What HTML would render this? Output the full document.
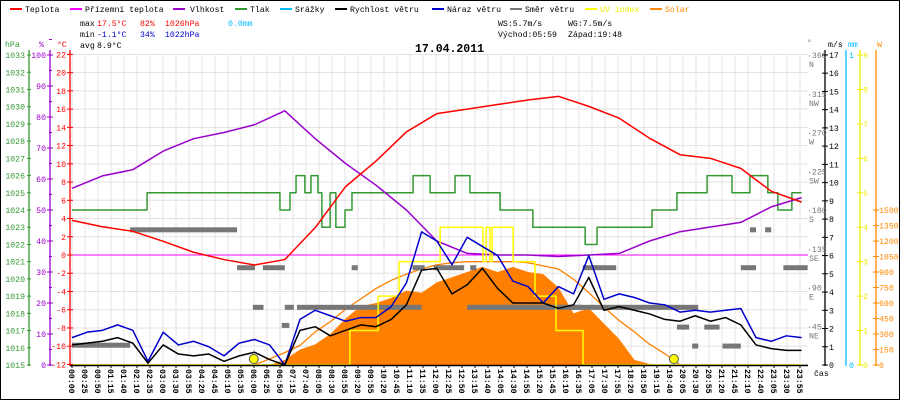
<!DOCTYPE html>
<html><head><meta charset="utf-8">
<style>
html,body{margin:0;padding:0;background:#fff}
svg{display:block}
text{font-family:"Liberation Mono",monospace;font-size:8.2px}
</style></head>
<body>
<svg id="chart" width="900" height="400" xmlns="http://www.w3.org/2000/svg">
<rect x="0.5" y="0.5" width="899" height="399" fill="#fff" stroke="#000"/>
<g id="grid"></g>
<g id="series"></g>
<g id="axes"></g>
<g>
<line x1="10" y1="9" x2="22" y2="9" stroke="#f00" stroke-width="2"/><text x="25" y="12">Teplota</text>
<line x1="70" y1="9" x2="82" y2="9" stroke="#f0f" stroke-width="2"/><text x="85" y="12">Přízemní teplota</text>
<line x1="173" y1="9" x2="185" y2="9" stroke="#90c" stroke-width="2"/><text x="190" y="12">Vlhkost</text>
<line x1="235" y1="9" x2="247" y2="9" stroke="#393" stroke-width="2"/><text x="250" y="12">Tlak</text>
<line x1="280" y1="9" x2="292" y2="9" stroke="#0bf" stroke-width="2"/><text x="295" y="12">Srážky</text>
<line x1="335" y1="9" x2="347" y2="9" stroke="#000" stroke-width="2"/><text x="350" y="12">Rychlost větru</text>
<line x1="432" y1="9" x2="444" y2="9" stroke="#00c" stroke-width="2"/><text x="447" y="12">Náraz větru</text>
<line x1="510" y1="9" x2="522" y2="9" stroke="#777" stroke-width="2"/><text x="525" y="12">Směr větru</text>
<line x1="585" y1="9" x2="597" y2="9" stroke="#ff0" stroke-width="2"/><text x="600" y="12" fill="#ee0">UV index</text>
<line x1="650" y1="9" x2="662" y2="9" stroke="#f80" stroke-width="2"/><text x="665" y="12" fill="#f80">Solar</text>
</g>
<g>
<text x="80" y="26">max</text><text x="97" y="26" fill="#f00">17.5°C</text><text x="140" y="26" fill="#f00">82%</text><text x="165" y="26" fill="#f00">1026hPa</text><text x="228" y="26" fill="#0bf">0.0mm</text>
<text x="80" y="37">min</text><text x="97" y="37" fill="#00c">-1.1°C</text><text x="140" y="37" fill="#00c">34%</text><text x="165" y="37" fill="#00c">1022hPa</text>
<text x="80" y="48">avg</text><text x="97" y="48">8.9°C</text>
<text x="498" y="26">WS:5.7m/s</text><text x="568" y="26">WG:7.5m/s</text>
<text x="498" y="37">Východ:05:59</text><text x="568" y="37">Západ:19:48</text>
</g>
<text x="415" y="52" style="font-size:11.5px;font-weight:bold">17.04.2011</text>
<text x="5" y="47" fill="#393">hPa</text>
<text x="39" y="47" fill="#90c">%</text>
<text x="57" y="47" fill="#f00">°C</text>
<text x="807" y="45" fill="#777">°</text>
<text x="828" y="47">m/s</text>
<text x="848" y="47" fill="#0bf">mm</text>
<text x="877" y="47" fill="#f80">W</text>
<text x="814" y="376">čas</text>
</svg>
<script>
// ---- data ----
const timeLabels=["00:00","00:25","00:50","01:15","01:40","02:10","02:35","03:00","03:30","03:55","04:20","04:45","05:10","05:35","06:00","06:25","06:50","07:15","07:40","08:05","08:30","08:55","09:20","09:55","10:20","10:45","11:10","11:35","12:00","12:25","12:50","13:15","13:40","14:05","14:30","14:55","15:20","15:45","16:10","16:35","17:05","17:30","17:55","18:20","18:50","19:15","19:40","20:05","20:30","20:55","21:20","21:45","22:10","22:40","23:05","23:30","23:55"];
const hourly=[0,1,2,3,4,5,6,7,8,9,10,11,12,13,14,15,16,17,18,19,20,21,22,23,24];
const tempValues=[3.8,3.1,2.6,1.5,0.3,-0.5,-1.1,-0.5,3.0,7.5,10.3,13.5,15.5,16.0,16.5,17.0,17.4,16.3,15.0,12.8,11.0,10.6,9.5,7.0,5.8];
const humValues=[57,61,63,69,73,75,77.5,82,73,65,58,50,40,36,35.5,35.5,35,35.5,36,40,43,44.5,46,51,54];
const apparentTemp=[0,0];
const apparentHours=[0,24];
const pressHours=[0,2.47,6.84,7.17,7.37,7.66,7.86,8.09,8.22,8.49,8.68,8.98,9.21,11.22,11.78,12.6,13.09,14.08,15.16,16.88,17.27,19.08,19.9,20.89,21.71,22.3,22.89,23.22,23.68,24];
const pressValues=[1024,1025,1024,1025,1026,1025,1026,1025,1023,1025,1023,1024,1025,1026,1025,1026,1025,1024,1023,1022,1023,1024,1025,1026,1025,1026,1025,1024,1025,1025];
const halfHours=[0,0.5,1,1.5,2,2.5,3,3.5,4,4.5,5,5.5,6,6.5,7,7.5,8,8.5,9,9.5,10,10.5,11,11.5,12,12.5,13,13.5,14,14.5,15,15.5,16,16.5,17,17.5,18,18.5,19,19.5,20,20.5,21,21.5,22,22.5,23,23.5,24];
const windValues=[1.1,1.2,1.3,1.5,1.2,0.1,1.1,0.6,0.5,0.6,0.2,0.5,0.7,0.3,0,1.9,2.1,1.6,1.9,2.2,2.1,2.5,3.3,5.2,5.3,3.9,4.4,5.3,4.2,3.4,3.4,3.4,3.1,3.3,4.8,3.0,3.2,3.0,2.8,2.5,2.4,2.7,2.4,2.6,2.2,1.1,0.9,0.8,0.8];
const gustValues=[1.5,1.8,1.9,2.2,1.9,0.2,1.8,1.1,1.3,1.0,0.5,1.2,1.4,1.1,0,2.5,3.0,2.7,2.4,2.6,2.6,3.2,4.5,7.3,6.8,5.5,7.0,6.5,6.0,4.6,4.3,3.4,4.3,3.9,6.0,3.6,3.9,3.7,3.4,3.3,2.9,3.0,2.9,3.0,3.1,1.5,1.3,1.6,1.5];
const solarValues=[0,0,0,0,0,0,0,0,0,0,0,0,0,0,50,150,200,300,450,570,600,650,720,700,800,850,900,950,900,950,900,880,750,500,550,400,250,50,10,0,0,0,0,0,0,0,0,0,0];
const solarMaxValues=[0,0,0,0,0,0,0,0,0,0,0,0,0,60,120,190,320,420,540,640,740,820,880,930,970,990,1000,1000,1000,1000,990,960,930,830,700,560,430,320,200,110,0,0,0,0,0,0,0,0,0];
const uvHours=[0,9.14,10.07,10.76,12.11,13.52,13.62,13.75,13.82,14.51,15.23,15.92,16.81,24];
const uvValues=[0,1,2,3,4,3,4,3,4,3,2,1,0,0];
const dirStart=[0,1.91,5.43,6.28,5.95,7.0,7.4,6.9,9.2,11.2,11.9,13.1,13.0,13.6,16.8,19.9,20.4,20.8,21.4,22.3,22.0,22.8,23.4];
const dirEnd=[1.91,5.43,6.02,7.0,6.3,7.3,11.5,7.15,9.4,11.6,12.9,13.3,16.8,20.6,17.9,20.3,20.6,21.3,22.0,22.5,22.5,23.0,24.2];
const dirValues=[23,157,113,113,67,67,67,46,113,113,113,113,67,67,113,44,22,44,22,157,113,157,113];
const sunEvents=[5.98,19.8];
// ---- scales ----
const X=h=>72+h*30.4;
const yT=t=>255-t*9.118;
const yH=p=>365-p*3.1;
const yP=v=>365-(v-1015)*17.22;
const yW=v=>365-v*18.24;
const yD=d=>365-d*0.861;
const yUV=u=>365-u*34.44;
const yS=w=>365-w*0.1033;
const NS="http://www.w3.org/2000/svg";
function mk(tag,parent,attrs){const e=document.createElementNS(NS,tag);for(const k in attrs)e.setAttribute(k,attrs[k]);parent.appendChild(e);return e;}
const grid=document.getElementById('grid'),ser=document.getElementById('series'),ax=document.getElementById('axes');
// grid
for(let i=0;i<timeLabels.length;i++){const x=72+i*13;
 const l=mk('line',grid,{x1:x,y1:55,x2:x,y2:365,stroke:'#e4e0e0','stroke-width':1});
 
 
 const t=mk('text',ax,{transform:`translate(${x-3},369) rotate(90)`,'font-weight':'bold'});
 t.textContent=timeLabels[i];
 
 
 mk('line',ax,{x1:x,y1:365,x2:x,y2:368,stroke:'#000'});
}
for(let t=-12;t<=22;t+=2){const y=yT(t);
 const l=mk('line',grid,{x1:70,y1:y,x2:808,y2:y,stroke:t===0?'#f0f':'#e4e0e0','stroke-width':1});
 
 
}
function poly(xs,ys,color,w,name,step){let pts=[];for(let i=0;i<xs.length;i++){if(step&&i>0)pts.push(X(xs[i])+','+ys(i-1));pts.push(X(xs[i])+','+ys(i));}
 const p=mk('polyline',ser,{points:pts.join(' '),fill:'none',stroke:color,'stroke-width':w,'stroke-linejoin':'round'});
 
 return p;}
// solar fill
{let pts=[X(0)+','+365];halfHours.forEach((h,i)=>pts.push(X(h)+','+yS(solarValues[i])));pts.push(X(24)+','+365);
 const p=mk('polygon',ser,{points:pts.join(' '),fill:'#ff8000'});
 
 }
poly(halfHours,i=>yS(solarMaxValues[i]),'#ff8000',1.3,'solar-max-line');
// direction bars
for(let i=0;i<dirValues.length;i++){const r=mk('rect',ser,{x:X(dirStart[i]),y:yD(dirValues[i])-2.5,width:X(dirEnd[i])-X(dirStart[i]),height:5,fill:'#777'});
 
 }
poly(apparentHours,i=>yT(apparentTemp[i]),'#f0f',1,'apparent-temp-line');
poly(pressHours,i=>yP(pressValues[i]),'#393',1.5,'pressure-line',true);
poly(hourly,i=>yH(humValues[i]),'#90c',1.5,'humidity-line');
poly(hourly,i=>yT(tempValues[i]),'#f00',1.5,'temperature-line');
poly(uvHours,i=>yUV(uvValues[i]),'#ff0',1.5,'uv-line',true);
poly(halfHours,i=>yW(gustValues[i]),'#00c',1.5,'gust-line');
poly(halfHours,i=>yW(windValues[i]),'#000',1.5,'wind-speed-line');
sunEvents.forEach((h,i)=>{const c=mk('circle',ser,{cx:X(h),cy:359,r:4.5,fill:'#ff0',stroke:'#555'});
 
 });
// axes lines
function vline(x,color,name){const l=mk('line',ax,{x1:x,y1:50,x2:x,y2:366,stroke:color,'stroke-width':1.3});
 
 }
vline(29,'#393','hpa-axis');vline(50,'#90c','humidity-axis');vline(70,'#f00','temp-axis');
vline(825,'#000','wind-axis');vline(846,'#0bf','rain-axis');vline(860,'#ee0','uv-axis');vline(876,'#f80','solar-axis');
const xa=mk('line',ax,{x1:70,y1:365.5,x2:808,y2:365.5,stroke:'#000','stroke-width':1.5});


function lab(x,y,txt,color,anchor,name){const t=mk('text',ax,{x:x,y:y,fill:color,'text-anchor':anchor});t.textContent=txt;
 
 }
for(let p=1015;p<=1033;p++){const y=yP(p);lab(25,y+3,p,'#393','end','hpa-tick-label');mk('line',ax,{x1:27,y1:y,x2:31,y2:y,stroke:'#393'});}
for(let h=0;h<=100;h+=10){const y=yH(h);lab(46,y+3,h,'#90c','end','humidity-tick-label');mk('line',ax,{x1:47,y1:y,x2:53,y2:y,stroke:'#90c'});mk('line',ax,{x1:49,y1:y-15.5,x2:52,y2:y-15.5,stroke:'#90c'});}
for(let t=-12;t<=22;t+=2){const y=yT(t);lab(66,y+3,t,'#f00','end','temp-tick-label');mk('line',ax,{x1:67,y1:y,x2:73,y2:y,stroke:'#f00'});}
const dirNames=['NE','E','SE','S','SW','W','NW','N'];
for(let k=1;k<=8;k++){const d=k*45,y=yD(d);lab(807,y+3,'·'+d,'#777','start','direction-tick-label');lab(809,y+12,dirNames[k-1],'#777','start','direction-name-label');}
for(let v=0;v<=17;v++){const y=yW(v);lab(829,y+3,v,'#000','start','wind-tick-label');mk('line',ax,{x1:822,y1:y,x2:828,y2:y,stroke:'#000'});}
lab(849,yW(0)+3,'0','#0bf','start','rain-tick-label');lab(849,yW(17)+3,'1','#0bf','start','rain-tick-label');
for(let u=0;u<=9;u++){const y=yUV(u);lab(863,y+3,u,'#ee0','start','uv-tick-label');mk('line',ax,{x1:857,y1:y,x2:863,y2:y,stroke:'#ee0'});}
for(let w=0;w<=1500;w+=150){const y=yS(w);lab(879,y+3,w,'#f80','start','solar-tick-label');mk('line',ax,{x1:873,y1:y,x2:879,y2:y,stroke:'#f80'});}
</script>
</body></html>
